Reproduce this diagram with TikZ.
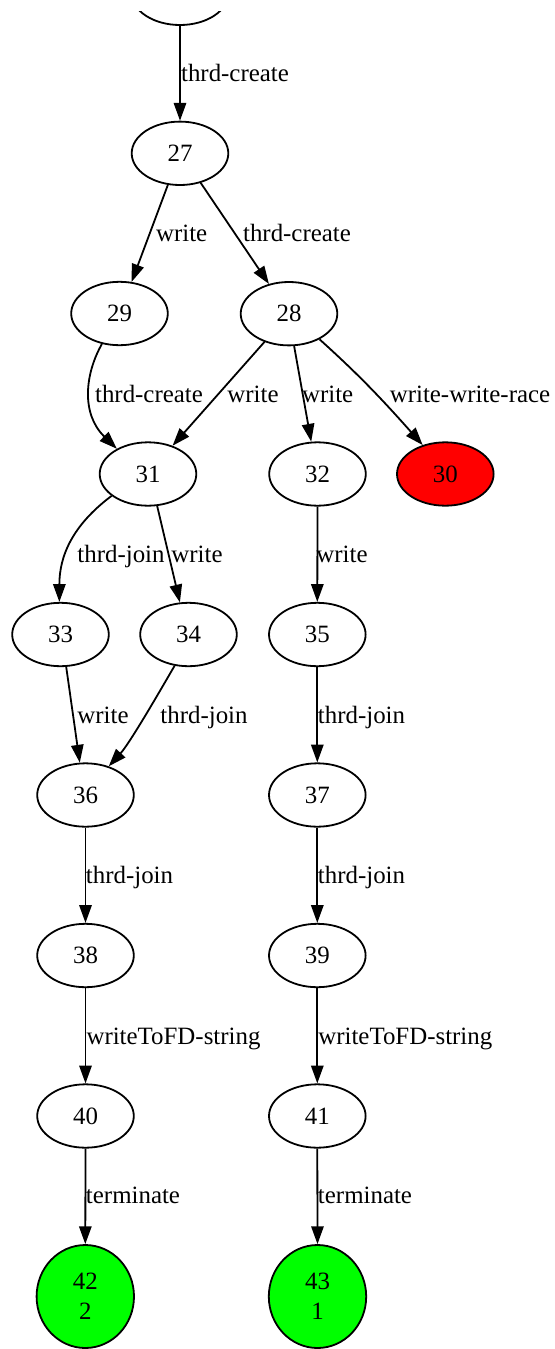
\documentclass[tikz,border=0pt]{standalone}
\usepackage{fontspec}
\setmainfont{Liberation Serif}
\usetikzlibrary{shapes.geometric, arrows.meta}
\definecolor{racered}{HTML}{FF0000}
\definecolor{donegreen}{HTML}{00FF00}
\begin{document}
\begin{tikzpicture}[x=0.5pt, y=-0.5pt,
  state/.style={ellipse, draw, line width=0.9pt, minimum width=48.3pt,
    minimum height=31.7pt, inner sep=0pt,
    font=\fontsize{12.45pt}{15pt}\selectfont},
  race/.style={state, fill=racered},
  final/.style={state, fill=donegreen, minimum width=48.7pt,
    minimum height=51.5pt, align=center},
  elabel/.style={anchor=base, inner sep=0pt,
    font=\fontsize{12.45pt}{15pt}\selectfont},
  edge/.style={-{Triangle[length=8.9pt, width=6.2pt]}, line width=0.9pt},
]
\useasboundingbox (0,0) rectangle (554,1349);

% state cut off by the top border
\begin{scope}
  \clip (0,11) rectangle (554,1349);
  \node[state] (n26) at (180,-6.7) {};
\end{scope}

% states
\node[state] (n27) at (180,153.3) {27};
\node[state] (n29) at (119.5,313.5) {29};
\node[state] (n28) at (289,313.7) {28};
\node[state] (n31) at (148,474) {31};
\node[state] (n32) at (317.5,474) {32};
\node[race]  (n30) at (445.3,474) {30};
\node[state] (n33) at (60.5,634.5) {33};
\node[state] (n34) at (188.5,634.5) {34};
\node[state] (n35) at (317.3,634.5) {35};
\node[state] (n36) at (85.5,795) {36};
\node[state] (n37) at (317.3,795) {37};
\node[state] (n38) at (85.5,955.5) {38};
\node[state] (n39) at (317.3,955.5) {39};
\node[state] (n40) at (85.5,1116) {40};
\node[state] (n41) at (317.3,1116) {41};
\node[final] (n42) at (85.3,1296.5) {42\\2};
\node[final] (n43) at (317.5,1296.5) {43\\1};

% transitions
\draw[edge] (n26.south) -- (n27.north);
\draw[edge] (n27.-111) -- (n29.69);
\draw[edge] (n27.-55) -- (n28.124.5);
\draw[edge] (n29.-120) .. controls +(-17,30) and +(-36,-35) .. (n31.141);
\draw[edge] (n28.-131) -- (n31.49);
\draw[edge] (n28.-81) -- (n32.101);
\draw[edge] (n28.-40) .. controls +(40,36) and +(-40,-45) .. (n30.128);
\draw[edge] (n31.-149) .. controls +(-40,30) and +(0,-45) .. (n33.92);
\draw[edge] (n31.-74) -- (n34.105);
\draw[edge] (n32.south) -- (n35.north);
\draw[edge] (n33.-80) -- (n36.100);
\draw[edge] (n34.-114) .. controls +(-22,38) and +(20,-22) .. (n36.51);
\draw[edge] (n35.south) -- (n37.north);
\draw[edge] (n36.south) -- (n38.north);
\draw[edge] (n37.south) -- (n39.north);
\draw[edge] (n38.south) -- (n40.north);
\draw[edge] (n39.south) -- (n41.north);
\draw[edge] (n40.south) -- (n42.north);
\draw[edge] (n41.south) -- (n43.north);

% transition labels
\node[elabel] (l0)  at (235,81) {thrd-create};
\node[elabel] (l1)  at (181.7,241.5) {write};
\node[elabel] (l2)  at (297,241.5) {thrd-create};
\node[elabel] (l3)  at (149,402) {thrd-create};
\node[elabel] (l4)  at (253,402) {write};
\node[elabel] (l5)  at (327.7,402) {write};
\node[elabel] (l6)  at (470,402) {write-write-race};
\node[elabel] (l7)  at (121,562.5) {thrd-join};
\node[elabel] (l8)  at (197,562.5) {write};
\node[elabel] (l9)  at (342,562.5) {write};
\node[elabel] (l10) at (103,723) {write};
\node[elabel] (l11) at (204,723) {thrd-join};
\node[elabel] (l12) at (361.5,723) {thrd-join};
\node[elabel] (l13) at (129.5,883.5) {thrd-join};
\node[elabel] (l14) at (361.5,883.5) {thrd-join};
\node[elabel] (l15) at (173.5,1044) {writeToFD-string};
\node[elabel] (l16) at (405.3,1044) {writeToFD-string};
\node[elabel] (l17) at (133,1203) {terminate};
\node[elabel] (l18) at (365,1203) {terminate};
\end{tikzpicture}
\end{document}
